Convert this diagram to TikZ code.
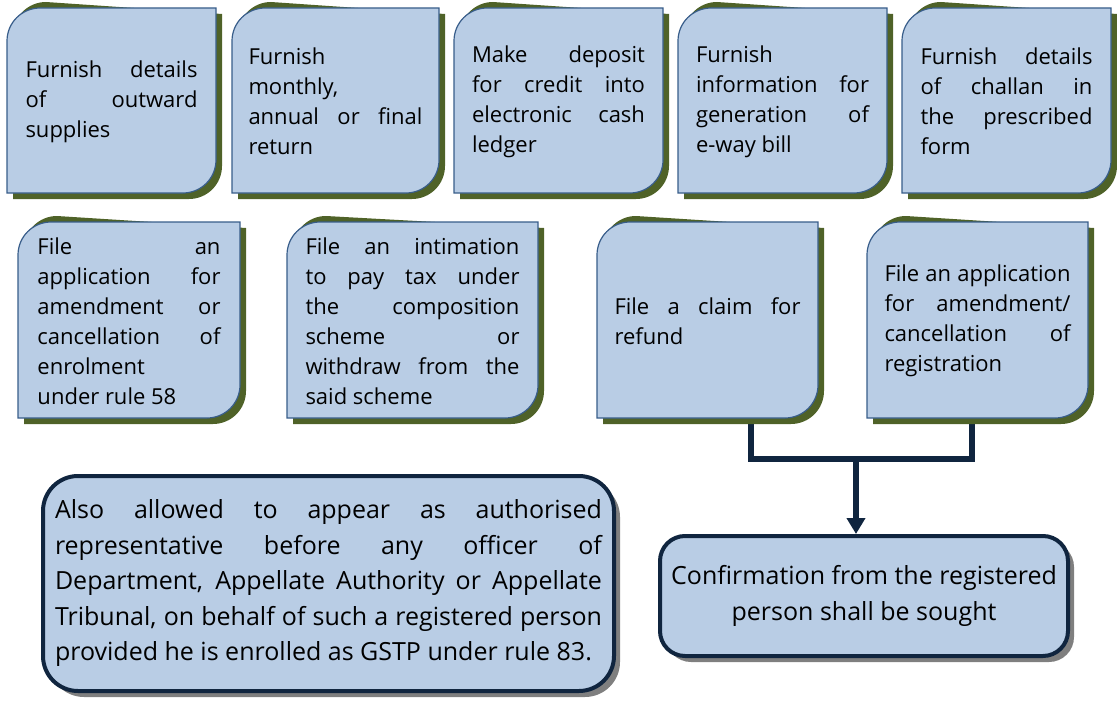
\documentclass[tikz,border=0pt]{standalone}
\usepackage{fontspec}
\setmainfont{Open Sans}
\usetikzlibrary{arrows.meta,shadows}
\definecolor{boxfill}{HTML}{B9CDE5}
\definecolor{boxedge}{HTML}{385D8A}
\definecolor{oliveshadow}{HTML}{4F6228}
\definecolor{navy}{HTML}{10253F}
\definecolor{grayshadow}{HTML}{7F7F7F}
\pgfdeclarelayer{bg}
\pgfsetlayers{bg,main}
\setlength\parindent{0pt}
\newlength\jw
\newcommand\NS{\spaceskip=0pt\xspaceskip=0pt\relax}
\newcommand\JL[1]{\makebox[\jw][s]{\NS #1}\\}
\hfuzz=20pt
\hbadness=10000
\tikzset{
  leaftext/.style={inner sep=0pt, align=left, text=black, font=\fontsize{22}{30}\selectfont},
  bigbox/.style={draw=navy, line width=4pt, fill=boxfill, rounded corners=#1,
    drop shadow={shadow xshift=6pt, shadow yshift=-6pt, fill=grayshadow, opacity=1},
    inner sep=0pt, text=black},
  conn/.style={draw=navy, line width=5.5pt, line join=miter},
}
% #1 name, #2 left, #3 top, #4 right, #5 bottom, #6 text width, #7 text
\newcommand\leafbox[7]{%
  \fill[oliveshadow] ({#2+6},{-#5-6}) -- ({#2+6},{-#3-27}) arc[start angle=180,end angle=90,radius=33] -- ({#4+6},{-#3-6}) -- ({#4+6},{-#5+27}) arc[start angle=0,end angle=-90,radius=33] -- cycle;
  \filldraw[fill=boxfill,draw=boxedge,line width=1.2pt] (#2,-#5) -- (#2,{-#3-33}) arc[start angle=180,end angle=90,radius=33] -- (#4,-#3) -- (#4,{-#5+33}) arc[start angle=0,end angle=-90,radius=33] -- cycle;
  \pgfmathsetmacro\bw{#4-#2}\pgfmathsetmacro\bh{#5-#3}%
  \setlength\jw{#6}%
  \node[leaftext,text width=#6,minimum width=\bw pt,minimum height=\bh pt] (#1) at ({(#2+#4)/2},{-(#3+#5)/2-1}) {\NS #7};
}
\begin{document}
\begin{tikzpicture}[x=1pt,y=1pt]
\useasboundingbox (0,0) rectangle (1117,-701);
% top row
\leafbox{s1}{7}{8}{216}{193}{172pt}{\JL{Furnish details}\JL{of outward}supplies}
\leafbox{s2}{232}{8}{439}{193}{174pt}{Furnish\\monthly,\\\JL{annual or final}return}
\leafbox{s3}{454}{8}{663}{193}{173pt}{\JL{Make deposit}\JL{for credit into}\JL{electronic cash}ledger}
\leafbox{s4}{678}{8}{887}{193}{173pt}{Furnish\\\JL{information for}\JL{generation of}e-way bill}
\leafbox{s5}{902}{8}{1111}{193}{172pt}{\JL{Furnish details}\JL{of challan in}\JL{the prescribed}form}
% second row
\leafbox{s6}{18}{222}{240}{418}{183pt}{\JL{File an}\JL{application for}\JL{amendment or}\JL{cancellation of}enrolment\\under rule 58}
\leafbox{s7}{287}{222}{538}{418}{214pt}{\JL{File an intimation}\JL{to pay tax under}\JL{the composition}\JL{scheme or}\JL{withdraw from the}said scheme}
\leafbox{s8}{597}{222}{818}{418}{186pt}{\JL{File a claim for}refund}
\leafbox{s9}{867}{222}{1088}{418}{186pt}{\JL{File an application}\JL{for amendment/}\JL{cancellation of}registration}
% bottom boxes
\setlength\jw{547pt}
\node[bigbox=35, minimum width=571pt, minimum height=215pt, text width=547pt, align=left,
      font=\fontsize{25}{35.5}\selectfont]
  (gstp) at (328.5,-583.5) {\NS\JL{Also allowed to appear as authorised}\JL{representative before any officer of}\JL{Department, Appellate Authority or Appellate}\JL{Tribunal, on behalf of such a registered person}provided he is enrolled as GSTP under rule 83.};
\node[bigbox=25, minimum width=408pt, minimum height=120pt, align=center,
      font=\fontsize{25}{35.5}\selectfont]
  (conf) at (864,-596) {\NS Confirmation from the registered\\person shall be sought};
\coordinate (top) at ([xshift=-8pt]conf.north);
% connectors
\begin{pgfonlayer}{bg}
\draw[conn] ([xshift=43.5pt]s8.south) -- ++(0,-40) coordinate (j) -| ([xshift=-5.5pt]s9.south);
\end{pgfonlayer}
\draw[conn,-{Triangle[width=18pt,length=16pt]}] (top |- j) -- (top);
\end{tikzpicture}
\end{document}
